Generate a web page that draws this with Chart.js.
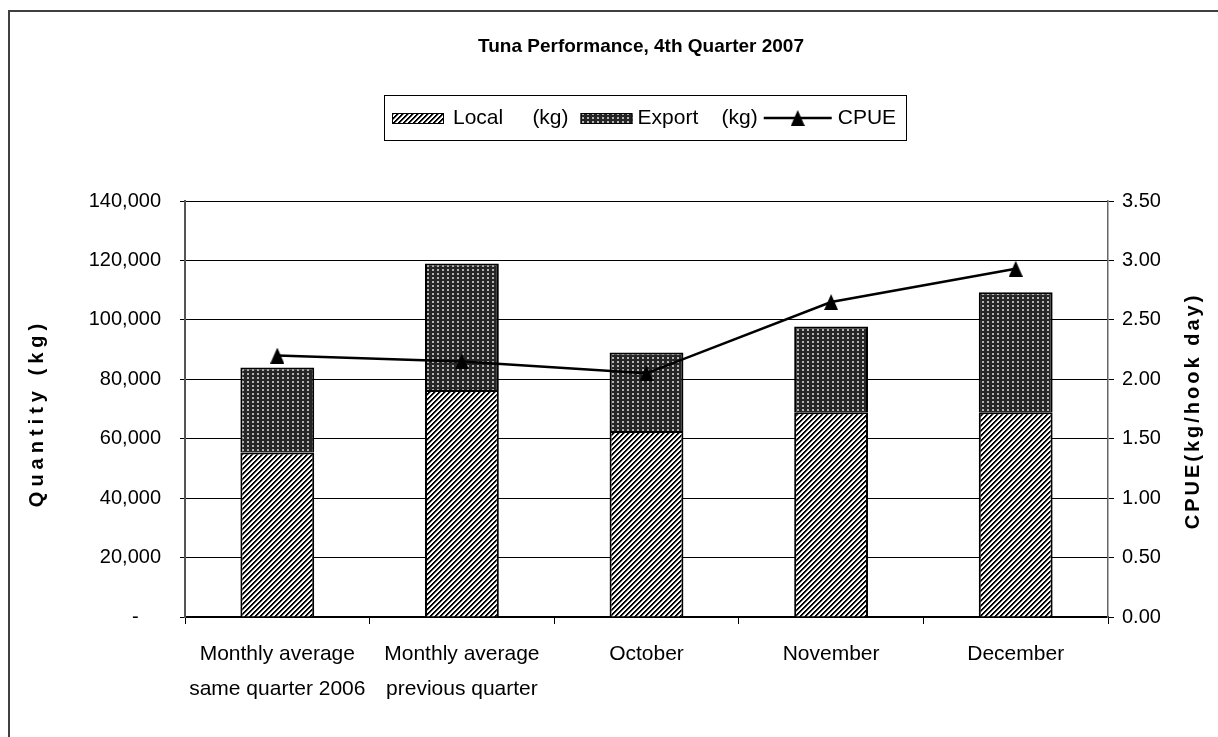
<!DOCTYPE html>
<html>
<head>
<meta charset="utf-8">
<title>Tuna Performance, 4th Quarter 2007</title>
<script src="https://cdn.jsdelivr.net/npm/chart.js@4/dist/chart.umd.min.js"></script>
<style>
  html, body { margin: 0; padding: 0; background: #fff; }
  #wrap { width: 1218px; height: 737px; position: relative; }
</style>
</head>
<body>
<div id="wrap"><canvas id="myChart"></canvas></div>
<script>
// data
var categories = [["Monthly average", "same quarter 2006"], ["Monthly average", "previous quarter"], "October", "November", "December"];
var localValues = [55400, 76400, 62600, 68900, 68900];
var exportValues = [28600, 42600, 26400, 28900, 40400];
var cpueValues = [2.20, 2.15, 2.05, 2.65, 2.93];

var chartTitle = "Tuna Performance, 4th Quarter 2007";
var seriesNames = ["Local     (kg)", "Export    (kg)", "CPUE"];
var leftTitle = "Quantity (kg)";
var rightTitle = "CPUE(kg/hook day)";
var qtyMax = 140000, qtyStep = 20000;
var cpueMax = 3.5, cpueStep = 0.5;

var FONT = "'Liberation Sans', Arial, sans-serif";

// fill patterns like the old Excel ones
function makeHatch() {
  var c = document.createElement('canvas');
  c.width = 5; c.height = 5;
  var x = c.getContext('2d');
  var img = x.createImageData(5, 5);
  for (var j = 0; j < 5; j++) {
    for (var i = 0; i < 5; i++) {
      var k = (i + j) % 5;
      var v = k < 2 ? 0 : (k == 2 ? 150 : 255);
      var p = (j * 5 + i) * 4;
      img.data[p] = img.data[p + 1] = img.data[p + 2] = v;
      img.data[p + 3] = 255;
    }
  }
  x.putImageData(img, 0, 0);
  return x.createPattern(c, 'repeat');
}

function makeDots() {
  var c = document.createElement('canvas');
  c.width = 5; c.height = 4;
  var x = c.getContext('2d');
  x.fillStyle = '#262626';
  x.fillRect(0, 0, 5, 4);
  x.fillStyle = '#b4b4b4';
  x.fillRect(2, 1, 2, 2);
  return x.createPattern(c, 'repeat');
}

function makeTriangle() {
  var c = document.createElement('canvas');
  c.width = 14; c.height = 16;
  var x = c.getContext('2d');
  x.fillStyle = '#000';
  x.beginPath();
  x.moveTo(7, 0); x.lineTo(14, 16); x.lineTo(0, 16);
  x.closePath();
  x.fill();
  return c;
}

var hatch = makeHatch();
var dots = makeDots();
var tri = makeTriangle();

// frame, title, legend and axis titles
var decor = {
  id: 'decor',
  beforeDraw: function(chart) {
    var ctx = chart.ctx;
    ctx.save();
    ctx.fillStyle = '#fff';
    ctx.fillRect(0, 0, chart.width, chart.height);
    ctx.strokeStyle = '#404040';
    ctx.lineWidth = 2;
    ctx.beginPath();
    ctx.moveTo(9, chart.height);
    ctx.lineTo(9, 11);
    ctx.lineTo(chart.width, 11);
    ctx.stroke();
    ctx.restore();
  },
  afterDraw: function(chart) {
    var ctx = chart.ctx;
    var a = chart.chartArea;
    ctx.save();
    ctx.fillStyle = '#000';
    ctx.textBaseline = 'middle';

    ctx.textAlign = 'center';
    ctx.font = 'bold 19px ' + FONT;
    ctx.fillText(chartTitle, 641, 47);

    // legend
    ctx.font = '21px ' + FONT;
    ctx.textAlign = 'left';
    var w0 = ctx.measureText(seriesNames[0]).width;
    var w1 = ctx.measureText(seriesNames[1]).width;
    var w2 = ctx.measureText(seriesNames[2]).width;
    var total = 8 + 52 + 9 + w0 + 12 + 52 + 5 + w1 + 6 + 68 + 6 + w2 + 10;
    var bx = Math.round(645 - total / 2), by = 95, ly = 118;
    ctx.strokeStyle = '#000';
    ctx.lineWidth = 1;
    ctx.strokeRect(bx + 0.5, by + 0.5, Math.round(total), 45);
    var x = bx + 8;
    ctx.fillStyle = hatch;
    ctx.fillRect(x, 113, 52, 11);
    ctx.strokeRect(x + 0.5, 113.5, 51, 10);
    x += 52 + 9;
    ctx.fillStyle = '#000';
    ctx.fillText(seriesNames[0], x, ly);
    x += w0 + 12;
    ctx.fillStyle = dots;
    ctx.fillRect(x, 113, 52, 11);
    ctx.strokeRect(x + 0.5, 113.5, 51, 10);
    x += 52 + 5;
    ctx.fillStyle = '#000';
    ctx.fillText(seriesNames[1], x, ly);
    x += w1 + 6;
    ctx.lineWidth = 2.5;
    ctx.beginPath();
    ctx.moveTo(x, ly); ctx.lineTo(x + 68, ly);
    ctx.stroke();
    ctx.drawImage(tri, x + 34 - 7, ly - 8);
    x += 68 + 6;
    ctx.fillText(seriesNames[2], x, ly);

    // axis titles
    ctx.textAlign = 'center';
    ctx.font = 'bold 20px ' + FONT;
    ctx.save();
    ctx.letterSpacing = '5px';
    ctx.translate(37, 413);
    ctx.rotate(-Math.PI / 2);
    ctx.fillText(leftTitle, 0, 0);
    ctx.restore();
    ctx.save();
    ctx.letterSpacing = '3px';
    ctx.translate(1193, 411);
    ctx.rotate(-Math.PI / 2);
    ctx.fillText(rightTitle, 0, 0);
    ctx.restore();
    ctx.restore();
  }
};

const myChart = new Chart("myChart", {
  type: "bar",
  data: {
    labels: categories,
    datasets: [
    {
      type: "line",
      label: "CPUE",
      data: cpueValues,
      yAxisID: "y1",
      borderColor: "#000",
      backgroundColor: "#000",
      borderWidth: 2.5,
      tension: 0,
      fill: false,
      pointStyle: tri,
      pointRadius: 8,
      order: 0
    },
    {
      label: "Local (kg)",
      data: localValues,
      yAxisID: "y",
      backgroundColor: hatch,
      borderColor: "#000",
      borderWidth: 2,
      barPercentage: 0.4,
      categoryPercentage: 1,
      order: 1
    },
    {
      label: "Export (kg)",
      data: exportValues,
      yAxisID: "y",
      backgroundColor: dots,
      borderColor: "#000",
      borderWidth: 2,
      barPercentage: 0.4,
      categoryPercentage: 1,
      order: 1
    }]
  },
  options: {
    animation: false,
    responsive: true,
    maintainAspectRatio: false,
    devicePixelRatio: 1,
    layout: { padding: { top: 201, left: 0, right: 0, bottom: 0 } },
    plugins: {
      legend: { display: false },
      title: { display: false },
      tooltip: { enabled: false }
    },
    scales: {
      x: {
        stacked: true,
        offset: true,
        grid: { offset: true, drawOnChartArea: false, drawTicks: true, tickLength: 7, color: "#000", lineWidth: 1 },
        border: { color: "#000", width: 1.5 },
        ticks: { color: "#000", font: { family: FONT, size: 21, lineHeight: 1.667 }, padding: 13, maxRotation: 0, autoSkip: false },
        afterFit: function(s) { s.height = 120; }
      },
      y: {
        stacked: true,
        position: "left",
        min: 0,
        max: qtyMax,
        grid: { color: "#000", lineWidth: 1, tickLength: 5, tickColor: "#000" },
        border: { color: "#555", width: 2 },
        ticks: {
          stepSize: qtyStep,
          color: "#000",
          padding: 19,
          font: { family: FONT, size: 20 },
          callback: function(v) { return v === 0 ? "-\u2007\u2007" : v.toLocaleString("en-US"); }
        },
        afterFit: function(s) { s.width = 185; }
      },
      y1: {
        position: "right",
        min: 0,
        max: cpueMax,
        grid: { drawOnChartArea: false, tickLength: 6, color: "#000" },
        border: { color: "#666", width: 1.5 },
        ticks: {
          stepSize: cpueStep,
          color: "#000",
          padding: 8,
          font: { family: FONT, size: 20 },
          callback: function(v) { return v.toFixed(2); }
        },
        afterFit: function(s) { s.width = 110; }
      }
    }
  },
  plugins: [decor]
});
</script>
</body>
</html>
